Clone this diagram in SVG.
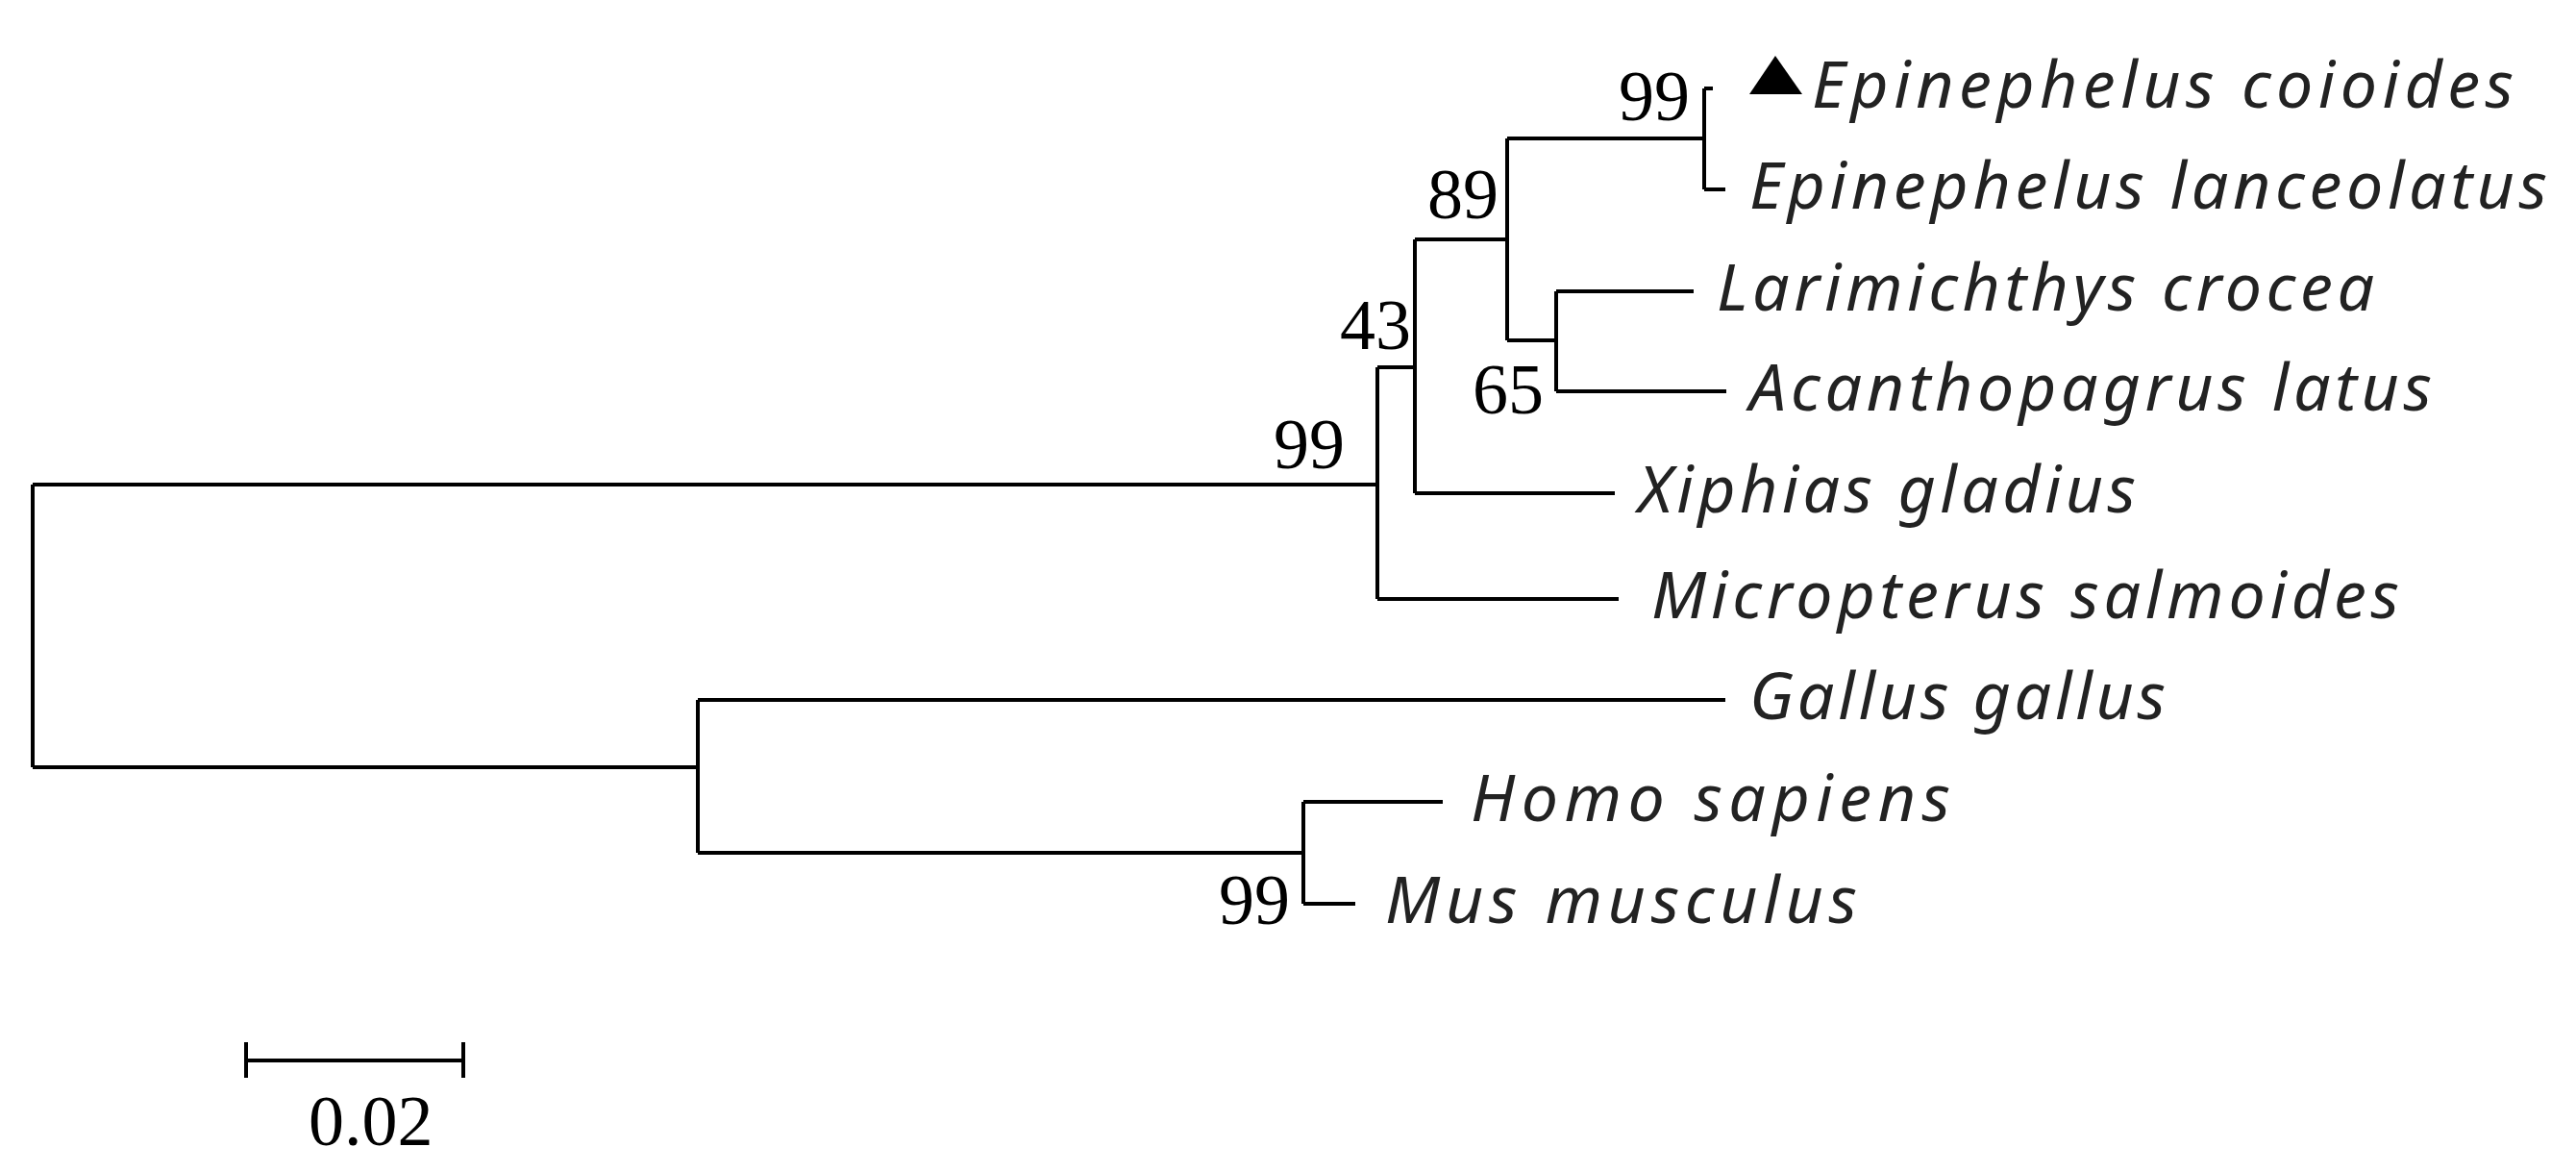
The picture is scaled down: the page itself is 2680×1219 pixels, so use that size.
<svg xmlns="http://www.w3.org/2000/svg" width="2680" height="1219" viewBox="0 0 2680 1219">
<style>
.b{fill:none;stroke:#000;stroke-width:4}
.t{font-family:"Noto Sans","DejaVu Sans",sans-serif;font-style:italic;font-size:68px;fill:#222}
.n{font-family:"Liberation Serif",serif;font-size:74px;fill:#000}
</style>
<rect width="2680" height="1219" fill="#fff"/>
<g id="connectors">
<path class="b" d="M34,504H1433M34,504V798M34,798H726"/>
<path class="b" d="M1433,382V623M1433,382H1472M1433,623H1684"/>
<path class="b" d="M1472,249V513M1472,513H1680M1472,249H1568"/>
<path class="b" d="M1568,144V354M1568,144H1773M1568,354H1619"/>
<path class="b" d="M1773,92V197M1773,92H1782M1773,197H1795"/>
<path class="b" d="M1619,303V407M1619,303H1762M1619,407H1796"/>
<path class="b" d="M726,728V887M726,728H1795M726,887H1356"/>
<path class="b" d="M1356,834V940M1356,834H1501M1356,940H1410"/>
<path class="b" d="M256,1103H482M256,1084V1121M482,1084V1121"/>
</g>
<g id="labels">
<polygon points="1820,98 1875,98 1847,58" fill="#000"/>
<text class="t" x="1885" y="112" textLength="730">Epinephelus coioides</text>
<text class="t" x="1820" y="217" textLength="830">Epinephelus lanceolatus</text>
<text class="t" x="1786" y="323" textLength="684">Larimichthys crocea</text>
<text class="t" x="1820" y="427" textLength="710">Acanthopagrus latus</text>
<text class="t" x="1704" y="533" textLength="518">Xiphias gladius</text>
<text class="t" x="1718" y="643" textLength="778">Micropterus salmoides</text>
<text class="t" x="1820" y="748" textLength="433">Gallus gallus</text>
<text class="t" x="1530" y="854" textLength="499">Homo sapiens</text>
<text class="t" x="1441" y="960" textLength="491">Mus musculus</text>
</g>
<g id="bootstrap">
<text class="n" x="1684" y="125">99</text>
<text class="n" x="1485" y="227">89</text>
<text class="n" x="1394" y="363">43</text>
<text class="n" x="1532" y="430">65</text>
<text class="n" x="1325" y="487">99</text>
<text class="n" x="1268" y="961">99</text>
<text class="n" x="321" y="1191">0.02</text>
</g>
</svg>
